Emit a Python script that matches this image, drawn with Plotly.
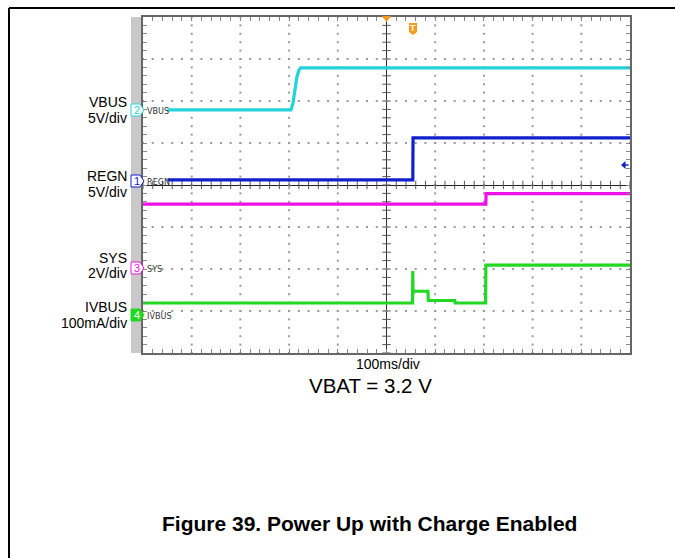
import plotly.graph_objects as go

W, H = 675, 558

# ---- data (time in ms, values in channel units) ----
vbus_t = [-450, -196, -192, -188, -184, -180, -176, 500]
vbus_v = [0.0, 0.0, 0.8, 2.4, 3.9, 4.7, 5.0, 5.0]

regn_t = [-450, 54, 54.5, 500]
regn_v = [0.1, 0.1, 5.1, 5.1]

sys_t = [-500, 204, 204.5, 500]
sys_v = [3.05, 3.05, 3.55, 3.55]

ivbus_t = [-500, 53.5, 54, 54.5, 55, 85, 86, 87, 140, 141, 203.5, 204, 500]
ivbus_v = [29, 29, 105, 50, 57, 57, 32, 35, 35, 29, 29, 119, 119]

# channel settings: (name, scale text, units per div, ground position in div, colour, marker number)
channels = [
    ("VBUS", "5V/div", 5.0, 1.79, "#22d3dc", "2"),
    ("REGN", "5V/div", 5.0, 0.10, "#1020cc", "1"),
    ("SYS", "2V/div", 2.0, -1.98, "#ee10e6", "3"),
    ("IVBUS", "100mA/div", 100.0, -3.10, "#22d822", "4"),
]
series = [(vbus_t, vbus_v), (regn_t, regn_v), (sys_t, sys_v), (ivbus_t, ivbus_v)]

FONT = "Liberation Sans, Arial, Helvetica, sans-serif"


def px(x):
    return x / W


def py(y):
    return 1 - y / H


fig = go.Figure()

# graticule dots
gx, gy = [], []
for xm in [-400, -300, -200, -100, 100, 200, 300, 400]:
    for k in range(-20, 21):
        gx.append(xm)
        gy.append(k * 0.2)
for ym in [-3, -2, -1, 1, 2, 3]:
    for k in range(-25, 26):
        gx.append(k * 20)
        gy.append(ym)
fig.add_trace(go.Scatter(x=gx, y=gy, mode="markers", hoverinfo="skip",
                         marker=dict(symbol="square", size=2, color="#9a9a9a", line=dict(width=0))))
# centre-line ticks
fig.add_trace(go.Scatter(x=[k * 20 for k in range(-25, 26)], y=[0] * 51, mode="markers", hoverinfo="skip",
                         marker=dict(symbol="line-ns", size=6, line=dict(width=1, color="#555"))))
fig.add_trace(go.Scatter(x=[0] * 41, y=[k * 0.2 for k in range(-20, 21)], mode="markers", hoverinfo="skip",
                         marker=dict(symbol="line-ew", size=6, line=dict(width=1, color="#555"))))

for (name, scale_txt, scale, gnd, col, num), (t, v) in zip(channels, series):
    fig.add_trace(go.Scatter(x=t, y=[gnd + val / scale for val in v], mode="lines",
                             line=dict(color=col, width=3.2), hoverinfo="skip", name=name))

fig.update_layout(
    width=W, height=H, margin=dict(l=0, r=0, t=0, b=0),
    paper_bgcolor="white", plot_bgcolor="white", showlegend=False,
    xaxis=dict(domain=[px(143), px(630)], range=[-500, 500], showgrid=False,
               zeroline=True, zerolinecolor="#333", zerolinewidth=1,
               showline=True, linecolor="#666", linewidth=2, mirror="ticks",
               ticks="inside", tickvals=[k * 20 for k in range(-25, 26)], ticklen=4,
               tickcolor="#888", showticklabels=False, fixedrange=True),
    yaxis=dict(domain=[py(353), py(17)], range=[-4, 4], showgrid=False,
               zeroline=True, zerolinecolor="#222", zerolinewidth=1.2,
               showline=True, linecolor="#666", linewidth=2, mirror="ticks",
               ticks="inside", tickvals=[k * 0.2 for k in range(-20, 21)], ticklen=4,
               tickcolor="#888", showticklabels=False, fixedrange=True),
)

shapes = []
# outer frame lines
shapes.append(dict(type="line", xref="paper", yref="paper", x0=px(9), x1=1, y0=py(8), y1=py(8),
                   line=dict(color="black", width=2)))
shapes.append(dict(type="line", xref="paper", yref="paper", x0=px(9), x1=px(9), y0=py(8), y1=0,
                   line=dict(color="black", width=2)))
# gray strip
shapes.append(dict(type="rect", xref="paper", yref="paper", x0=px(131), x1=px(142), y0=py(353), y1=py(17),
                   fillcolor="#c9c9c9", line=dict(width=0), layer="below"))
# trigger triangle
shapes.append(dict(type="path", xref="paper", yref="paper",
                   path=f"M{px(382)},{py(16)} L{px(391)},{py(16)} L{px(386.5)},{py(22)} Z",
                   fillcolor="#f59a1c", line=dict(width=0)))
# T marker
shapes.append(dict(type="path", xref="paper", yref="paper",
                   path=f"M{px(409)},{py(23)} L{px(417)},{py(23)} L{px(417)},{py(32)} L{px(413)},{py(35)} L{px(409)},{py(32)} Z",
                   fillcolor="#f59a1c", line=dict(width=0)))
# blue arrow at right
shapes.append(dict(type="path", xref="paper", yref="paper",
                   path=f"M{px(621)},{py(165)} L{px(625.5)},{py(161)} L{px(625.5)},{py(169)} Z",
                   fillcolor="#1020cc", line=dict(width=0)))
shapes.append(dict(type="line", xref="paper", yref="paper", x0=px(624), x1=px(628.5), y0=py(165), y1=py(165),
                   line=dict(color="#1020cc", width=1.5)))

annotations = []
marker_y = {"2": 110, "1": 181, "3": 268, "4": 315}
label_y = {"VBUS": (102, 118), "REGN": (176, 192), "SYS": (258, 273), "IVBUS": (307, 323)}
for name, scale_txt, scale, gnd, col, num in channels:
    my = marker_y[num]
    fill = col if num == "4" else "white"
    shapes.append(dict(type="path", xref="paper", yref="paper",
                       path=(f"M{px(131)},{py(my - 6)} L{px(140)},{py(my - 6)} L{px(144)},{py(my)} "
                             f"L{px(140)},{py(my + 6)} L{px(131)},{py(my + 6)} Z"),
                       fillcolor=fill, line=dict(color=col, width=1)))
    annotations.append(dict(xref="paper", yref="paper", x=px(136.5), y=py(my), text=num, showarrow=False,
                            font=dict(family=FONT, size=11, color="white" if num == "4" else col),
                            xanchor="center", yanchor="middle"))
    annotations.append(dict(xref="paper", yref="paper", x=px(145), y=py(my + 1), text=name, showarrow=False,
                            font=dict(family="Liberation Sans Narrow, DejaVu Sans Condensed, Arial Narrow, sans-serif",
                                      size=9, color="#333"),
                            xanchor="left", yanchor="middle"))
    y1, y2 = label_y[name]
    annotations.append(dict(xref="paper", yref="paper", x=px(129), y=py(y1), text=name, showarrow=False,
                            font=dict(family=FONT, size=14, color="black"), xanchor="right", yanchor="middle"))
    annotations.append(dict(xref="paper", yref="paper", x=px(129), y=py(y2), text=scale_txt, showarrow=False,
                            font=dict(family=FONT, size=14, color="black"), xanchor="right", yanchor="middle"))

annotations.append(dict(xref="paper", yref="paper", x=px(413), y=py(28.5), text="<b>T</b>", showarrow=False,
                        font=dict(family=FONT, size=9, color="white"), xanchor="center", yanchor="middle"))
annotations.append(dict(xref="paper", yref="paper", x=px(388), y=py(364), text="100ms/div", showarrow=False,
                        font=dict(family=FONT, size=14, color="black"), xanchor="center", yanchor="middle"))
annotations.append(dict(xref="paper", yref="paper", x=px(371), y=py(385), text="VBAT = 3.2 V", showarrow=False,
                        font=dict(family=FONT, size=20.5, color="black"), xanchor="center", yanchor="middle"))
annotations.append(dict(xref="paper", yref="paper", x=px(369), y=py(523),
                        text="<b>Figure 39. Power Up with Charge Enabled</b>", showarrow=False,
                        font=dict(family=FONT, size=21, color="black"), xanchor="center", yanchor="middle"))

fig.update_layout(shapes=shapes, annotations=annotations)
fig.write_html("out.html", config={"displayModeBar": False},
               post_script="document.body.style.margin='0';")
